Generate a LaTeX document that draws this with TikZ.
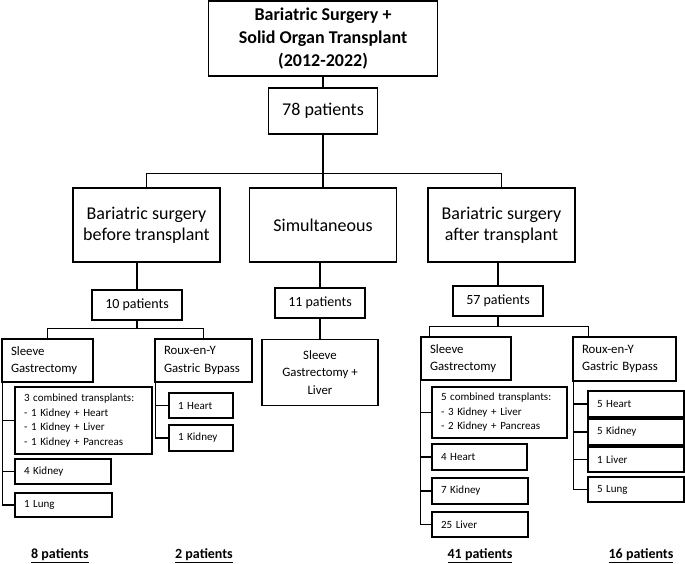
\documentclass[tikz,border=0pt]{standalone}
\usepackage{fontspec}
\setmainfont{Carlito}
\usepackage{tikz}
\usetikzlibrary{calc}
\usetikzlibrary{positioning}

\begin{document}
\begin{tikzpicture}[x=1pt,y=-1pt,line width=1.4pt]
	\tikzstyle{cbox}=[draw, align=center, inner sep=0pt, anchor=center]
	\tikzstyle{lbox}=[draw, align=left, inner xsep=9pt, inner ysep=0pt, anchor=center]
	\tikzstyle{big}=[font=\fontsize{18}{21}\selectfont]
	\tikzstyle{mid}=[font=\fontsize{14}{17}\selectfont]
	\tikzstyle{head}=[font=\fontsize{12.8}{17.5}\selectfont]
	\tikzstyle{small}=[font=\fontsize{11}{14.5}\selectfont]
	\tikzstyle{total}=[font=\bfseries\fontsize{14}{17}\selectfont]
	\useasboundingbox (0,0) rectangle (685,564);

	% top
	\node[cbox, font=\bfseries\fontsize{18}{23}\selectfont, minimum width=229pt, minimum height=75pt] (title) at (323,38.5) {Bariatric Surgery +\\Solid Organ Transplant\\(2012-2022)};
	\node[cbox, big, minimum width=109pt, minimum height=46pt] (tot) at (323,111) {78 patients};

	% timing
	\node[cbox, big, minimum width=147pt, minimum height=74pt] (before) at (146.5,225) {Bariatric surgery\\before transplant};
	\node[cbox, big, minimum width=147pt, minimum height=74pt] (simul) at (323,225) {Simultaneous};
	\node[cbox, big, minimum width=147pt, minimum height=74pt] (after) at (501.5,225) {Bariatric surgery\\after transplant};

	\node[cbox, mid, minimum width=90pt, minimum height=30pt] (p10) at (137,305) {10 patients};
	\node[cbox, mid, minimum width=90pt, minimum height=30pt] (p11) at (320,303) {11 patients};
	\node[cbox, mid, minimum width=90pt, minimum height=30pt] (p57) at (498,301) {57 patients};

	% before transplant
	\node[lbox, head, text width=73pt, minimum height=43pt] (sl1) at (47.5,360.5) {Sleeve\\Gastrectomy};
	\node[lbox, head, text width=79pt, minimum height=43pt] (rx1) at (203.5,360.5) {Roux-en-Y\\Gastric Bypass};
	\node[lbox, small, text width=119pt, minimum height=67pt] (comb1) at (83.5,420.5) {3 combined transplants:\\- 1 Kidney + Heart\\- 1 Kidney + Liver\\- 1 Kidney + Pancreas};
	\node[lbox, small, text width=78pt, minimum height=25pt] (k4) at (63,471.5) {4 Kidney};
	\node[lbox, small, text width=79pt, minimum height=24pt] (lung1) at (63.5,505) {1 Lung};
	\node[lbox, small, text width=46pt, minimum height=25pt] (h1) at (201,405.5) {1 Heart};
	\node[lbox, small, text width=46pt, minimum height=26pt] (kid1) at (201,438) {1 Kidney};

	% simultaneous
	\node[cbox, head, minimum width=116pt, minimum height=66pt] (sgl) at (320,372.5) {Sleeve\\Gastrectomy +\\Liver};

	% after transplant
	\node[lbox, head, text width=72pt, minimum height=43pt] (sl2) at (466,358.5) {Sleeve\\Gastrectomy};
	\node[lbox, head, text width=85pt, minimum height=44pt] (rx2) at (624.5,359) {Roux-en-Y\\Gastric Bypass};
	\node[lbox, small, text width=117pt, minimum height=51pt] (comb2) at (499.5,412.5) {5 combined transplants:\\- 3 Kidney + Liver\\- 2 Kidney + Pancreas};
	\node[lbox, small, text width=77pt, minimum height=26pt] (h4) at (479.5,457) {4 Heart};
	\node[lbox, small, text width=78pt, minimum height=26pt] (k7) at (480,491) {7 Kidney};
	\node[lbox, small, text width=78pt, minimum height=25pt] (l25) at (480,524.5) {25 Liver};
	\node[lbox, small, text width=78pt, minimum height=26pt] (h5) at (636,404) {5 Heart};
	\node[lbox, small, text width=78pt, minimum height=26pt] (k5) at (636,432) {5 Kidney};
	\node[lbox, small, text width=78pt, minimum height=25pt] (lv1) at (636,459.5) {1 Liver};
	\node[lbox, small, text width=78pt, minimum height=25pt] (lg5) at (636,489.5) {5 Lung};

	% totals
	\node[total] (t8) at (60,556) {\underline{8 patients}};
	\node[total] (t2) at (204,556) {\underline{2 patients}};
	\node[total] (t41) at (480,556) {\underline{41 patients}};
	\node[total] (t16) at (641,556) {\underline{16 patients}};

	% connectors
	\draw (title.south) -- (tot.north);
	\draw (tot.south) -- ++(0,39) coordinate (bar);
	\draw (before.north) |- (bar) -| (after.north);
	\draw (bar) -- (simul.north);

	\draw (p10.north) -- (p10.north |- before.south);
	\draw (p11.north) -- (p11.north |- simul.south);
	\draw (p57.north) -- (p57.north |- after.south);

	\draw (p10.south) -- ++(0,8) coordinate (b1);
	\draw (sl1.north) |- (b1) -| (rx1.north);
	\draw (p11.south) -- (sgl.north);
	\draw (p57.south) -- ++(0,10) coordinate (b3);
	\draw ([xshift=9pt]sl2.north west) |- (b3) -| ([xshift=16pt]rx2.north west);

	% spines
	\coordinate (s1) at ([xshift=1pt]sl1.south west);
	\coordinate (r1) at ([xshift=1pt]rx1.south west);
	\coordinate (s2) at (sl2.south west);
	\coordinate (r2) at ([xshift=1pt]rx2.south west);

	\draw (s1) |- (lung1.west);
	\foreach \n in {comb1,k4}
		\draw (\n.west) -- (\n.west -| s1);
	\draw (r1) |- (kid1.west);
	\draw (h1.west) -- (h1.west -| r1);

	\draw (s2) |- (l25.west);
	\foreach \n in {comb2,h4,k7}
		\draw (\n.west) -- (\n.west -| s2);
	\draw (r2) |- (lg5.west);
	\foreach \n in {h5,k5,lv1}
		\draw (\n.west) -- (\n.west -| r2);
\end{tikzpicture}
\end{document}
